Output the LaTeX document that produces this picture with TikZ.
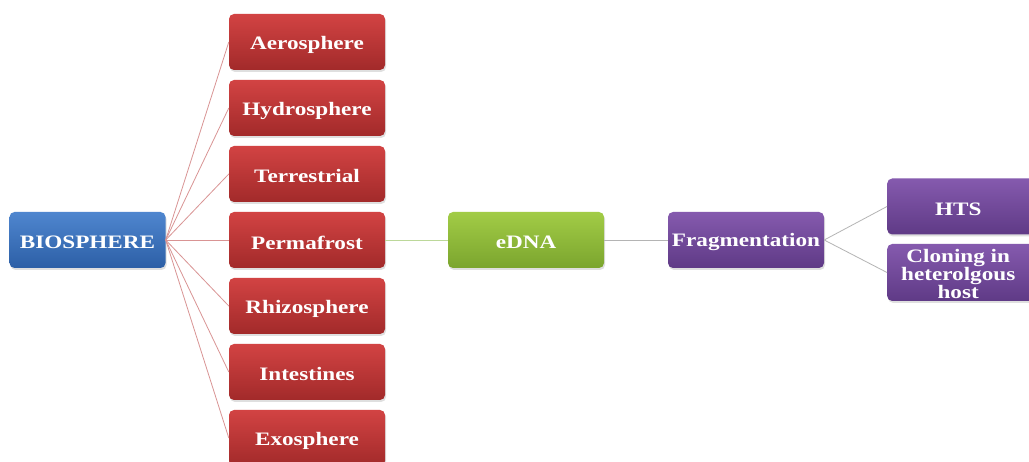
\documentclass[tikz,border=0pt]{standalone}
\usepackage{fontspec}
\setmainfont{Liberation Serif}
\usepackage{graphicx}
\usetikzlibrary{shadows}
\definecolor{redT}{HTML}{D24343}
\definecolor{redB}{HTML}{A22A2A}
\definecolor{bluT}{HTML}{4F86CF}
\definecolor{bluB}{HTML}{2C5FA6}
\definecolor{grnT}{HTML}{A2CC46}
\definecolor{grnB}{HTML}{7BA52E}
\definecolor{purT}{HTML}{855AAE}
\definecolor{purB}{HTML}{5F3A86}
\definecolor{redline}{HTML}{D99494}
\definecolor{grnline}{HTML}{BCD89A}
\definecolor{gryline}{HTML}{B4B4B4}
\newcommand{\T}[2][-2.5pt]{\raisebox{#1}[\height][\depth]{\scalebox{1.22}[1]{#2}}}
\tikzset{
  box/.style={rounded corners=5pt, minimum width=156pt, minimum height=56pt,
    inner sep=0pt, text=white, font=\fontsize{19}{17.5}\selectfont\bfseries,
    drop shadow={opacity=0.25, shadow xshift=1pt, shadow yshift=-2pt}},
  redbox/.style={box, top color=redT, bottom color=redB},
  bluebox/.style={box, top color=bluT, bottom color=bluB},
  greenbox/.style={box, top color=grnT, bottom color=grnB},
  purplebox/.style={box, top color=purT, bottom color=purB},
  redlink/.style={draw=redline, line width=0.8pt},
  greenlink/.style={draw=grnline, line width=0.8pt},
  greylink/.style={draw=gryline, line width=0.8pt}
}
\begin{document}
\begin{tikzpicture}[x=1pt,y=-1pt]
\useasboundingbox (0,0) rectangle (1029,462);
\clip (0,0) rectangle (1029,462);
\fill[white] (0,0) rectangle (1029,462);
\node[bluebox] (bio) at (87.5,240) {\T{BIOSPHERE}};
\node[redbox] (aero) at (307,42) {\T{Aerosphere}};
\node[redbox] (hydro) at (307,108) {\T{Hydrosphere}};
\node[redbox] (terr) at (307,174) {\T{Terrestrial}};
\node[redbox] (perma) at (307,240) {\T{Permafrost}};
\node[redbox] (rhizo) at (307,306) {\T{Rhizosphere}};
\node[redbox] (intes) at (307,372) {\T{Intestines}};
\node[redbox] (exo) at (307,438) {\T{Exosphere}};
\node[greenbox] (edna) at (526,240) {\T{eDNA}};
\node[purplebox] (frag) at (746,240) {\T{Fragmentation}};
\node[purplebox, anchor=west] (hts) at (887,206.5) {\hspace*{-14pt}\T{HTS}};
\node[purplebox, anchor=west, minimum height=57pt] (clon) at (887,272.5) {\hspace*{-14pt}\T[-4pt]{\begin{tabular}{@{}c@{}}Cloning in\\heterolgous\\host\end{tabular}}};
\foreach \n in {aero,hydro,terr,perma,rhizo,intes,exo}
  \draw[redlink] (bio.east) -- (\n.west);
\draw[greenlink] (perma.east) -- (edna.west);
\draw[greylink] (edna.east) -- (frag.west);
\draw[greylink] (frag.east) -- (hts.west);
\draw[greylink] (frag.east) -- (clon.west);
\end{tikzpicture}
\end{document}
